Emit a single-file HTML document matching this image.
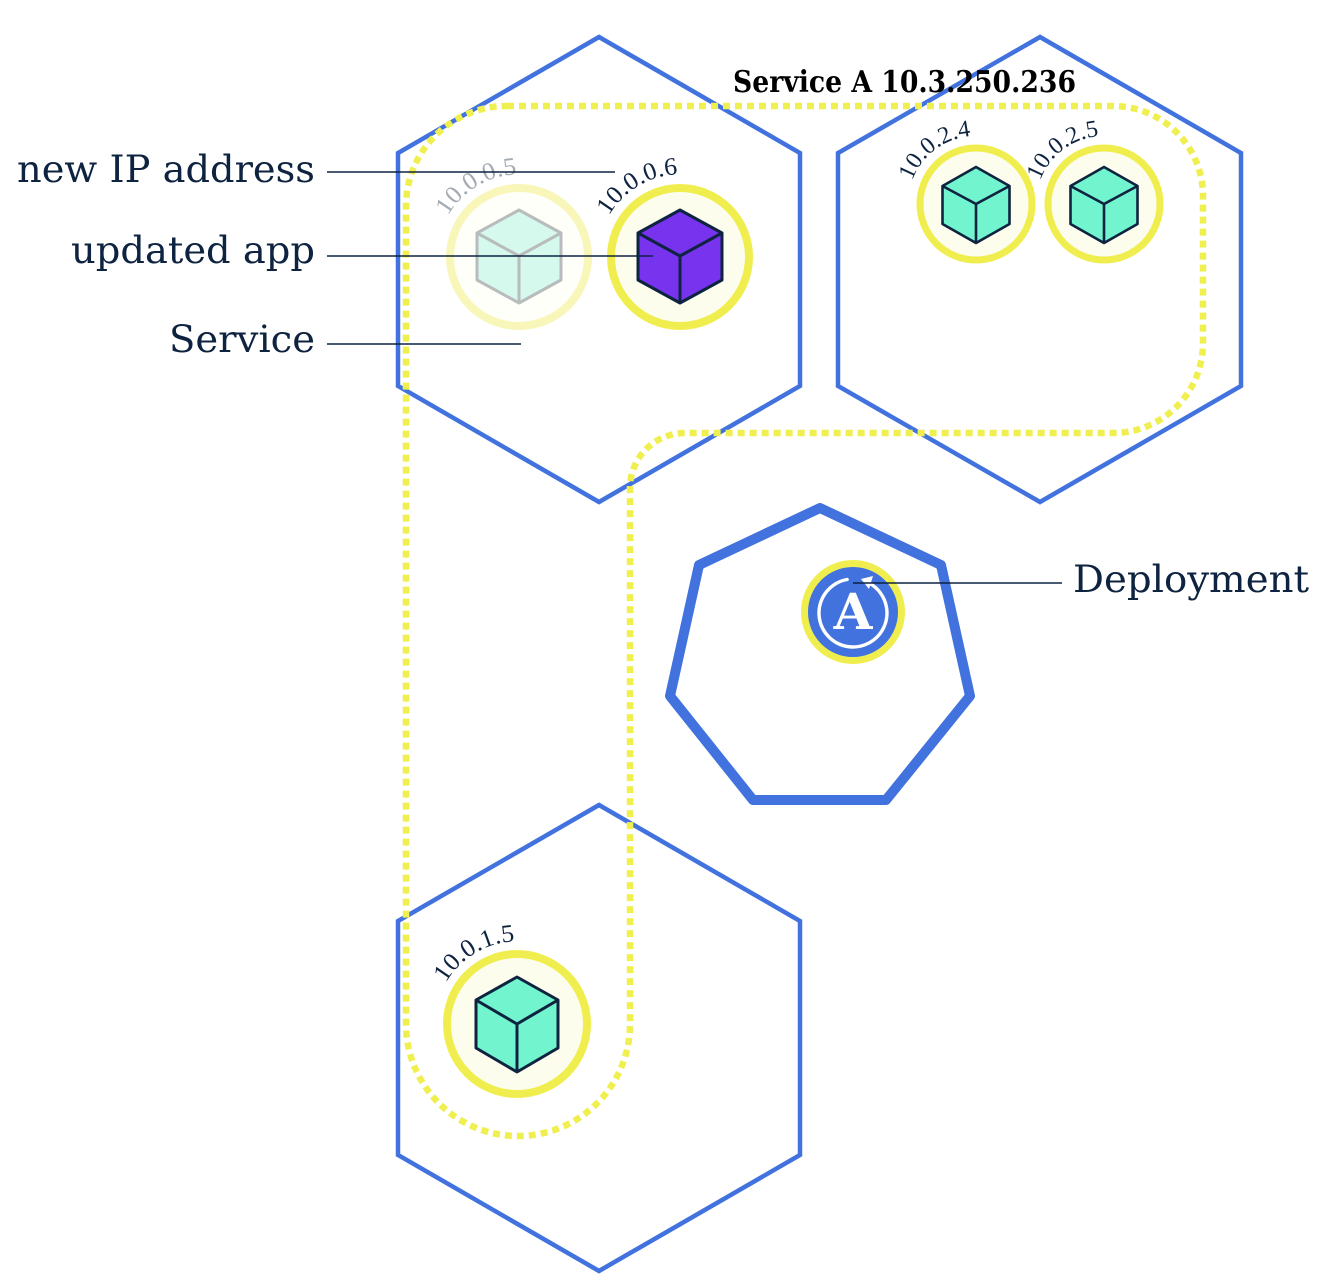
<!DOCTYPE html>
<html>
<head>
<meta charset="utf-8">
<style>
  html,body{margin:0;padding:0;background:#fff;}
  svg{display:block;}
  .lbl{font-family:"DejaVu Serif","Liberation Serif",serif;font-size:37px;fill:#0e2340;}
  .ip{font-family:"Liberation Serif","DejaVu Serif",serif;font-size:25px;fill:#0e2340;}
</style>
</head>
<body>
<svg width="1330" height="1288" viewBox="0 0 1330 1288" xmlns="http://www.w3.org/2000/svg">
  <rect width="1330" height="1288" fill="#fff"/>

  <!-- Hexagons (nodes) -->
  <g fill="none" stroke="#4172de" stroke-width="4.5" stroke-linejoin="miter">
    <polygon points="599,37 800,153 800,386 599,502 398,386 398,153"/>
    <polygon points="1040,37 1241,153 1241,386 1040,502 838,386 838,153"/>
    <polygon points="599,805 800,921 800,1155 599,1271 398,1155 398,921"/>
  </g>

  <!-- Heptagon (master) -->
  <polygon points="820,508 941,565 970,696 886,800 753,800 670,696 699,565" fill="none" stroke="#4172de" stroke-width="10" stroke-linejoin="round"/>

  <!-- Service dashed boundary -->
  <path d="M 507 106 H 1113 A 90 90 0 0 1 1203 196 V 343 A 90 90 0 0 1 1113 433 H 685 A 55 55 0 0 0 630 488 V 1024 A 112 112 0 0 1 406 1024 V 206 A 101 100 0 0 1 507 106 Z"
        fill="none" stroke="#f0ef50" stroke-width="6.5" stroke-dasharray="7 5"/>

  <!-- Faded pod 10.0.0.5 -->
  <circle cx="519" cy="257" r="69" fill="#fffffa" stroke="#f8f6b8" stroke-width="8"/>
  <g transform="translate(519,257)" stroke="#b8bcbc" stroke-width="3" stroke-linejoin="round" fill="#d5f9ec">
    <polygon points="0,-47 42,-24 42,23 0,46 -42,23 -42,-24"/>
    <polyline points="-42,-24 0,-1 42,-24" fill="none"/>
    <line x1="0" y1="-1" x2="0" y2="46"/>
  </g>

  <!-- Pod 10.0.0.6 -->
  <circle cx="680" cy="257" r="69" fill="#fdfdee" stroke="#f0ee4f" stroke-width="8"/>
  <g transform="translate(680,257)" stroke="#0e2340" stroke-width="3" stroke-linejoin="round" fill="#7733ee">
    <polygon points="0,-47 42,-24 42,23 0,46 -42,23 -42,-24"/>
    <polyline points="-42,-24 0,-1 42,-24" fill="none"/>
    <line x1="0" y1="-1" x2="0" y2="46"/>
  </g>

  <!-- Pod 10.0.2.4 -->
  <circle cx="976" cy="204" r="56" fill="#fdfdee" stroke="#f0ee4f" stroke-width="7"/>
  <g transform="translate(976,204)" stroke="#0e2340" stroke-width="2.6" stroke-linejoin="round" fill="#72f5ce">
    <polygon points="0,-37 33.5,-18 33.5,20 0,39 -33.5,20 -33.5,-18"/>
    <polyline points="-33.5,-18 0,0 33.5,-18" fill="none"/>
    <line x1="0" y1="0" x2="0" y2="39"/>
  </g>

  <!-- Pod 10.0.2.5 -->
  <circle cx="1104" cy="204" r="56" fill="#fdfdee" stroke="#f0ee4f" stroke-width="7"/>
  <g transform="translate(1104,204)" stroke="#0e2340" stroke-width="2.6" stroke-linejoin="round" fill="#72f5ce">
    <polygon points="0,-37 33.5,-18 33.5,20 0,39 -33.5,20 -33.5,-18"/>
    <polyline points="-33.5,-18 0,0 33.5,-18" fill="none"/>
    <line x1="0" y1="0" x2="0" y2="39"/>
  </g>

  <!-- Pod 10.0.1.5 -->
  <circle cx="517" cy="1024" r="70" fill="#fdfdee" stroke="#f0ee4f" stroke-width="8"/>
  <g transform="translate(517,1024)" stroke="#0e2340" stroke-width="3" stroke-linejoin="round" fill="#72f5ce">
    <polygon points="0,-47 41,-24 41,24 0,48 -41,24 -41,-24"/>
    <polyline points="-41,-24 0,0 41,-24" fill="none"/>
    <line x1="0" y1="0" x2="0" y2="48"/>
  </g>

  <!-- IP arc paths -->
  <defs>
    <path id="a005" d="M 447.9 215.9 A 83 83 0 0 1 533.4 175.3"/>
    <path id="a006" d="M 608.9 215.9 A 83 83 0 0 1 694.4 175.3"/>
    <path id="a015" d="M 445.9 982.9 A 83 83 0 0 1 531.4 942.3"/>
    <path id="a024" d="M 912.1 180.7 A 68 68 0 0 1 987.8 137.0"/>
    <path id="a025" d="M 1040.1 180.7 A 68 68 0 0 1 1115.8 137.0"/>
  </defs>
  <text class="ip" style="fill:#a3abb3"><textPath href="#a005" textLength="84" lengthAdjust="spacingAndGlyphs">10.0.0.5</textPath></text>
  <text class="ip"><textPath href="#a006" textLength="84" lengthAdjust="spacingAndGlyphs">10.0.0.6</textPath></text>
  <text class="ip"><textPath href="#a015" textLength="84" lengthAdjust="spacingAndGlyphs">10.0.1.5</textPath></text>
  <text class="ip" style="font-size:24px"><textPath href="#a024" textLength="78" lengthAdjust="spacingAndGlyphs">10.0.2.4</textPath></text>
  <text class="ip" style="font-size:24px"><textPath href="#a025" textLength="78" lengthAdjust="spacingAndGlyphs">10.0.2.5</textPath></text>

  <!-- Deployment icon -->
  <circle cx="853" cy="612" r="48.5" fill="#4172de" stroke="#f0ee4f" stroke-width="7"/>
  <path d="M 869 583 A 34 34 0 1 1 847.1 579.5" fill="none" stroke="#fff" stroke-width="3.4" stroke-linecap="round"/>
  <polygon points="861,579 873,576 869,589" fill="#fff"/>
  <text x="853" y="629" text-anchor="middle" font-family="DejaVu Serif, Liberation Serif, serif" font-weight="bold" font-size="50" fill="#fff">A</text>

  <!-- Leader lines -->
  <g stroke="#0e2340" stroke-width="1.4">
    <line x1="327" y1="172" x2="615" y2="172"/>
    <line x1="327" y1="256" x2="653" y2="256"/>
    <line x1="327" y1="344" x2="521" y2="344"/>
    <line x1="853" y1="583" x2="1062" y2="583"/>
  </g>

  <!-- Labels -->
  <text class="lbl" x="17" y="182" textLength="298" lengthAdjust="spacingAndGlyphs">new IP address</text>
  <text class="lbl" x="71" y="263" textLength="244" lengthAdjust="spacingAndGlyphs">updated app</text>
  <text class="lbl" x="169" y="352" textLength="146" lengthAdjust="spacingAndGlyphs">Service</text>
  <text class="lbl" x="1073" y="592" textLength="236" lengthAdjust="spacingAndGlyphs">Deployment</text>
  <text x="733" y="92" textLength="343" lengthAdjust="spacingAndGlyphs" font-family="DejaVu Serif, Liberation Serif, serif" font-weight="bold" font-size="30" fill="#000">Service A 10.3.250.236</text>
</svg>
</body>
</html>
